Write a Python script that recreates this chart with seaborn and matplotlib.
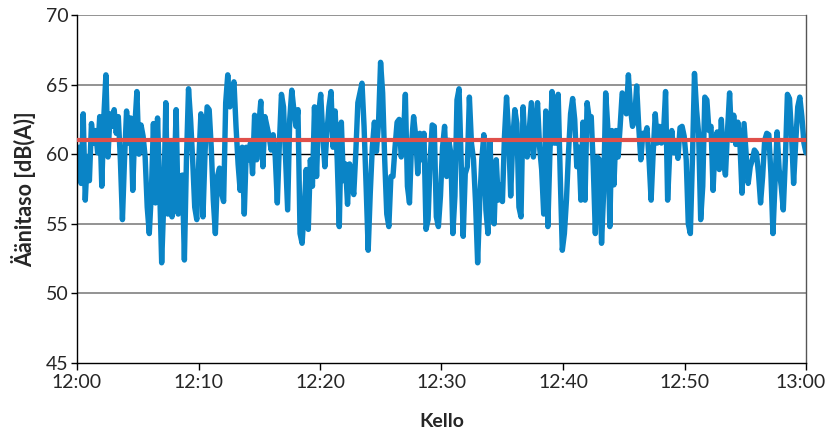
import matplotlib
matplotlib.use("Agg")
import matplotlib.pyplot as plt
import matplotlib.dates as mdates
import matplotlib.transforms as mtransforms
import seaborn as sns
import pandas as pd
import numpy as np

# ---- data ----
levels_part1 = [59.6,60.5,57.9,62.9,56.7,59.8,58.1,62.2,60.8,61.7,60.1,62.7,57.7,62.7,65.7,59.8,62.9,62.0,63.2,61.5,
                62.7,59.6,55.3,59.6,63.1,60.8,62.6,57.4,62.0,64.5,60.0,62.1,61.3,59.8,56.2,54.3,57.2,62.2,56.5,62.6,
                57.7,52.2,56.5,63.7,55.7,60.8,55.5,57.7,63.2,55.7]
levels_part2 = [58.4,58.5,52.4,59.6,64.7,62.5,59.6,56.2,55.3,59.6,62.9,55.5,60.1,63.4,63.2,60.5,56.7,54.3,58.4,59.0,
                57.2,56.6,63.7,65.7,63.4,64.4,65.2,62.0,59.3,57.4,60.5,55.7,60.5,59.6,60.8,58.6,62.8,59.6,62.0,63.8,
                59.1,62.7,62.0,61.3,60.3,61.4,59.8,56.5,60.8,64.3,63.4,59.6,56.0,62.5,64.6,63.2,62.0]
levels_part3 = [63.2,54.3,53.6,56.0,58.9,54.6,59.6,57.7,63.4,58.4,62.9,64.3,61.5,59.1,61.5,63.4,64.5,60.5,63.1,59.6,
                54.8,62.3,58.1,59.3,56.4,59.3,58.1,57.1,60.1,63.7,64.4,65.1,62.0,57.7,53.1,57.2,60.5,62.3,60.2,62.2,
                66.6,64.4,59.6,55.7,54.8,58.4,58.4,60.5,62.3,62.5,59.8,61.0,64.3,57.7,56.5,60.8,62.7,61.3,58.6,61.5,59.6]
levels_part4 = [61.5,54.6,55.3,59.6,62.1,62.0,55.5,54.8,57.0,60.5,62.0,58.4,61.0,60.1,54.3,57.0,63.9,64.7,59.6,54.1,
                58.6,59.1,64.1,60.8,59.6,56.5,52.2,56.5,59.6,61.4,56.0,54.3,60.9,56.5,55.0,59.6,56.7,57.8,56.6,61.3,
                64.1,61.5,57.0,61.0,63.2,62.2,56.2,55.5,63.4,60.5,59.8,61.7,63.7,59.8,62.0,63.7,60.5,58.9,55.7,63.1]
levels_part5 = [54.8,60.1,64.5,60.8,60.8,64.3,58.4,53.1,54.3,56.7,60.1,62.9,64.0,62.5,59.1,60.5,56.7,62.3,56.7,63.7,
                62.6,62.7,59.1,54.3,59.8,59.6,53.6,57.2,64.4,62.0,54.8,61.7,57.8,61.7,59.8,62.0,64.4,64.1,62.9,65.7,
                63.3,62.0,62.5,64.9,62.0,59.6,61.5,61.3,61.9,59.6,56.7,60.1,62.9,60.8,62.0,60.8,61.5,64.5]
levels_part6 = [56.7,60.1,61.7,60.1,60.8,59.7,61.9,62.0,61.3,59.6,55.0,54.3,59.6,65.8,63.2,61.5,55.3,57.7,64.1,63.9,
                61.7,62.0,57.4,60.8,61.6,58.9,62.5,59.6,58.5,61.7,64.4,61.0,62.8,60.7,62.3,60.8,57.2,62.2,60.1,57.9,
                59.1,59.6,60.3,60.1,58.6,56.5,58.4,61.0,61.5,61.4,58.6,54.3,57.9,61.6,58.9,57.7,56.0,59.6,64.3,64.0,
                61.4,57.9,60.8,63.4,64.1,62.7,60.8,60.1]
mean_level = 61.0
start_time = "2020-01-01 12:00:00"
end_time = "2020-01-01 13:00:00"
y_ticks = [45, 50, 55, 60, 65, 70]

levels = levels_part1 + levels_part2 + levels_part3 + levels_part4 + levels_part5 + levels_part6
times = pd.date_range(start_time, end_time, periods=len(levels))
df = pd.DataFrame({"Kello": times, "level": levels})

# ---- style ----
sns.set_theme(style="white")
plt.rcParams["font.family"] = ["Lato", "DejaVu Sans"]

fig = plt.figure(figsize=(8.26, 4.32), dpi=100)
ax = fig.add_axes([77/826, 1-363/432, (806-77)/826, (363-15)/432])

for y in [50, 55, 65, 70]:
    ax.axhline(y, color="#808080", lw=1.2, zorder=0)
ax.axhline(60, color="#000000", lw=1.0, zorder=0)

sns.lineplot(data=df, x="Kello", y="level", ax=ax, color="#0a84c6", lw=3.9, zorder=2)
ax.axhline(mean_level, color="#e0504a", lw=3.0, zorder=3, solid_capstyle="butt")

ax.set_xlim(pd.Timestamp(start_time), pd.Timestamp(end_time))
ax.set_ylim(45, 70)
ax.set_yticks(y_ticks)
ax.xaxis.set_major_locator(mdates.MinuteLocator(byminute=range(0, 60, 10)))
ax.xaxis.set_major_formatter(mdates.DateFormatter("%H:%M"))

for side in ["left", "bottom"]:
    ax.spines[side].set_color("black")
    ax.spines[side].set_linewidth(1.0)
ax.spines["right"].set_color("#555555")
ax.spines["right"].set_linewidth(1.0)
ax.spines["top"].set_visible(False)

ax.tick_params(axis="x", which="major", direction="out", length=5, width=1.0,
               color="black", labelsize=14, pad=3, bottom=True)
ax.tick_params(axis="y", which="major", direction="out", length=4, width=1.0,
               color="black", labelsize=14, pad=2, left=True)
ax.set_xlabel("Kello", fontsize=14, fontweight="bold", labelpad=16)
ax.set_ylabel("Äänitaso [dB(A)]", fontsize=15.5, fontweight="bold", labelpad=7)

fig.canvas.draw()
last = ax.get_xticklabels()[-1]
last.set_transform(last.get_transform() + mtransforms.ScaledTranslation(-5/100, 0, fig.dpi_scale_trans))

fig.savefig("out.png", dpi=100)
